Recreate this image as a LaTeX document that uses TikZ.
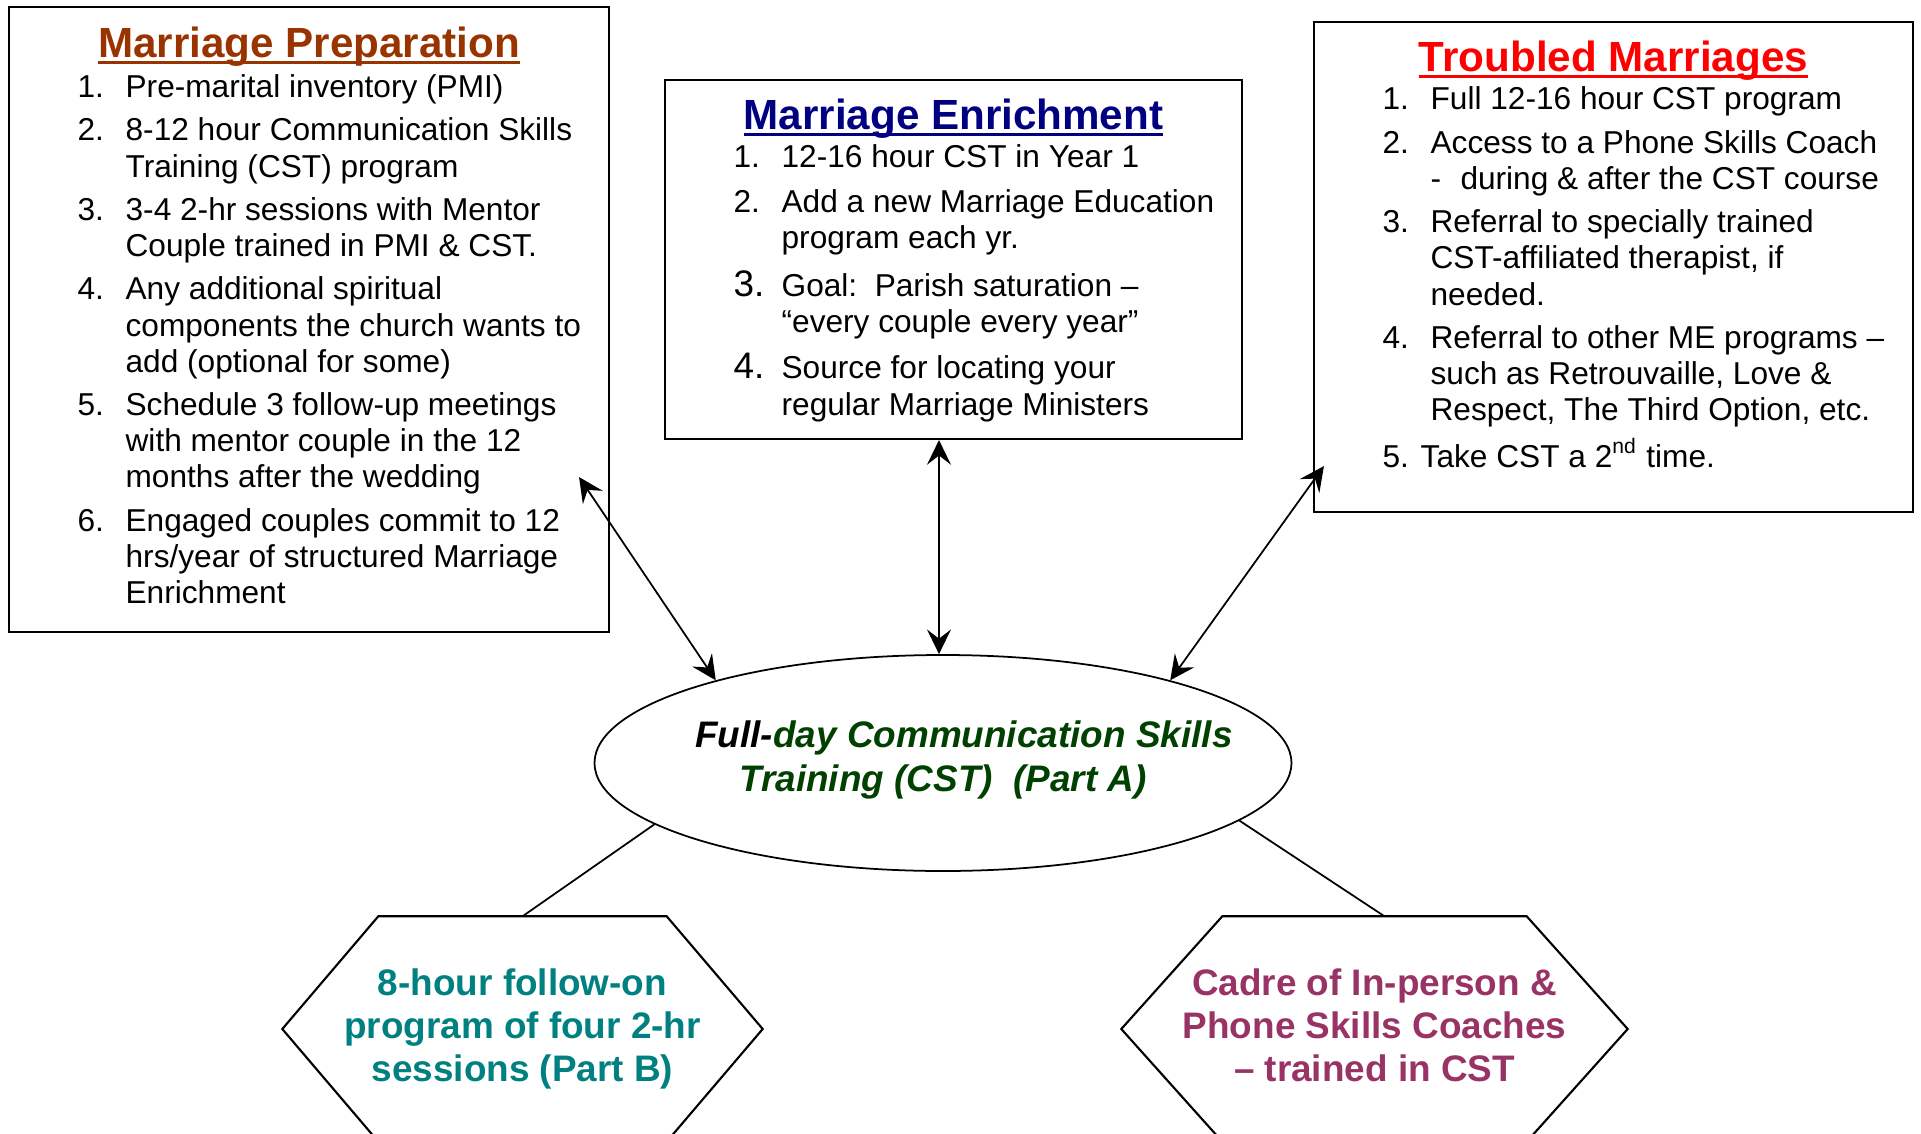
\documentclass[tikz,border=0pt]{standalone}
\usepackage{fontspec}
\setmainfont{Liberation Sans}
\usetikzlibrary{arrows.meta,calc,shapes.geometric}
\definecolor{prepbrown}{RGB}{153,51,0}
\definecolor{enrichblue}{RGB}{0,0,128}
\definecolor{troubred}{RGB}{255,0,0}
\definecolor{cstgreen}{RGB}{0,64,0}
\definecolor{progteal}{RGB}{0,128,128}
\definecolor{coachplum}{RGB}{153,51,102}
% underline that runs through the descenders
\newcommand{\ttlline}[1]{\setbox0\hbox{#1}\rlap{\rule[-1.8pt]{\wd0}{0.85pt}}\box0}
% larger item number, no extra row height
\newcommand{\bignum}[1]{\smash{\fontsize{10.5}{12}\selectfont #1}}
\tikzset{
panel/.style={draw, line width=0.6pt, inner sep=0pt}, % the three framed boxes
boxtitle/.style={anchor=base, inner sep=0pt, font=\fontsize{12}{14}\selectfont\bfseries},
itemlist/.style={anchor=base west, inner sep=0pt, font=\fontsize{9}{10.3}\selectfont},
link/.style={<->, >={Stealth[length=7pt,width=6.8pt,inset=2.6pt]}, line width=0.5pt}, % double arrows
hexlabel/.style={minimum height=2.2cm, inner sep=0pt, align=center, font=\fontsize{10.5}{12.2}\selectfont\bfseries},
}

\begin{document}
\begin{tikzpicture}
	\useasboundingbox (0,0) rectangle (19.21,-11.34);

	% the three boxes
	\node[panel, minimum width=6.004cm, minimum height=6.245cm] (prep) at (3.092,-3.1955) {};
	\node[panel, minimum width=5.77cm, minimum height=3.59cm] (enrich) at (9.535,-2.595) {};
	\node[panel, minimum width=5.99cm, minimum height=4.903cm] (troub) at (16.135,-2.6685) {};

	\node[boxtitle, text=prepbrown] (prepTitle) at ($(prep.north)+(0,-0.51)$) {\ttlline{Marriage Preparation}};
	\node[boxtitle, text=enrichblue] (enrichTitle) at ($(enrich.north)+(0,-0.51)$) {\ttlline{Marriage Enrichment}};
	\node[boxtitle, text=troubred] (troubTitle) at ($(troub.north)+(0,-0.51)$) {\ttlline{Troubled Marriages}};

	\node[itemlist] (prepList) at ($(prep.north west)+(0.69,-0.915)$) {%
		\begin{tabular}[t]{@{}p{0.48cm}@{}l@{}}
			1. & Pre-marital inventory (PMI)\\[2pt]
			2. & 8-12 hour Communication Skills\\
			   & Training (CST) program\\[2pt]
			3. & 3-4 2-hr sessions with Mentor\\
			   & Couple trained in PMI \& CST.\\[2pt]
			4. & Any additional spiritual\\
			   & components the church wants to\\
			   & add (optional for some)\\[2pt]
			5. & Schedule 3 follow-up meetings\\
			   & with mentor couple in the 12\\
			   & months after the wedding\\[2pt]
			6. & Engaged couples commit to 12\\
			   & hrs/year of structured Marriage\\
			   & Enrichment
		\end{tabular}};

	\node[itemlist] (enrichList) at ($(enrich.north west)+(0.69,-0.89)$) {%
		\begin{tabular}[t]{@{}p{0.48cm}@{}l@{}}
			1. & 12-16 hour CST in Year 1\\[2.3pt]
			2. & Add a new Marriage Education\\
			   & program each yr.\\[3.4pt]
			\bignum{3.} & Goal:\hspace{5pt}Parish saturation --\\
			   & “every couple every year”\\[2.8pt]
			\bignum{4.} & Source for locating your\\
			   & regular Marriage Ministers
		\end{tabular}};

	\node[itemlist] (troubList) at ($(troub.north west)+(0.69,-0.893)$) {%
		\begin{tabular}[t]{@{}p{0.48cm}@{}l@{}}
			1. & Full 12-16 hour CST program\\[2pt]
			2. & Access to a Phone Skills Coach\\
			   & -\hspace{5.5pt}during \& after the CST course\\[2pt]
			3. & Referral to specially trained\\
			   & CST-affiliated therapist, if\\
			   & needed.\\[2pt]
			4. & Referral to other ME programs --\\
			   & such as Retrouvaille, Love \&\\
			   & Respect, The Third Option, etc.\\[2pt]
			\multicolumn{2}{@{}l@{}}{5. Take CST a 2\textsuperscript{nd} time.}
		\end{tabular}};

	% centre ellipse
	\node[ellipse, draw, line width=0.5pt, minimum width=6.97cm, minimum height=2.16cm, inner sep=0pt] (cst) at (9.43,-7.63) {};
	\node[font=\fontsize{10.5}{12.3}\selectfont\bfseries\itshape, align=center, text=cstgreen] (cstText) at ($(cst.center)+(0,0.03)$)
		{\hspace*{0.42cm}\textcolor{black}{Full-}day Communication Skills\\ Training (CST)\ \ (Part A)};

	% the two hexagons
	\node[hexlabel, minimum width=4.79cm, text=progteal] (prog) at (5.225,-10.29) {8-hour follow-on\\ program of four 2-hr\\ sessions (Part B)};
	\node[hexlabel, minimum width=5.05cm, text=coachplum] (coach) at (13.745,-10.29) {Cadre of In-person \&\\ Phone Skills Coaches\\ -- trained in CST\vphantom{()}};
	\foreach \h/\c in {prog/0.96, coach/1.01}
		\draw[line width=0.6pt] ($(\h.north west)+(\c,0.02)$) -- ($(\h.north east)+(-\c,0.02)$) -- (\h.east)
			-- ($(\h.south east)+(-\c,-0.02)$) -- ($(\h.south west)+(\c,-0.02)$) -- (\h.west) -- cycle;

	% arrows to the boxes
	\coordinate (prepEnd) at ($(prep.south east)+(-0.314,1.558)$);
	\coordinate (troubEnd) at ($(troub.south west)+(0.11,0.47)$);
	\coordinate (cstTop) at ($(cst.north)+(-0.04,0)$);
	\draw[link] (cst.160) -- (prepEnd);
	\draw[link] (cstTop) -- (cstTop |- enrich.south);
	\draw[link] (cst.20) -- (troubEnd);

	% lines to the hexagons
	\draw[line width=0.5pt] (cst.192) -- ($(prog.north)+(0,0.02)$);
	\draw[line width=0.5pt] (cst.349) -- ($(coach.north)+(0.1,0.02)$);
\end{tikzpicture}
\end{document}
